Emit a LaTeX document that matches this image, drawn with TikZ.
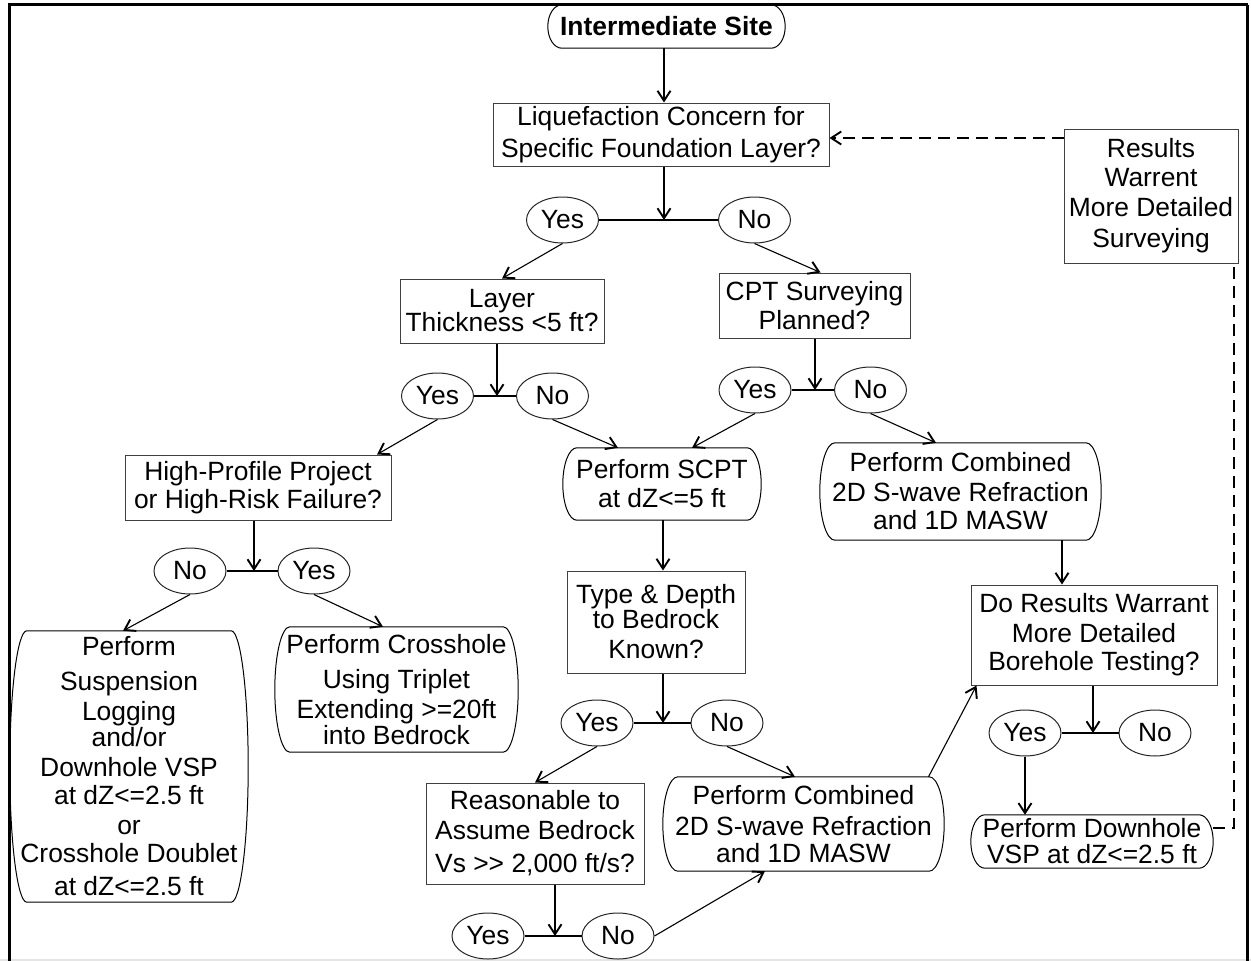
\documentclass[tikz,border=0pt]{standalone}
\usepackage{fontspec}
\setmainfont{Liberation Sans}
\usetikzlibrary{arrows.meta,calc,shapes.geometric}

% Outline of a "terminal" box: straight top and bottom, elliptic sides
\newcommand\termshape[2]{%
  \draw[termline]
    ([xshift=#2pt]#1.north west) -- ([xshift=-#2pt]#1.north east)
    .. controls ([xshift=-0.448*#2pt]#1.north east) and ($(#1.east)!0.552!(#1.north east)$) .. (#1.east)
    .. controls ($(#1.east)!0.552!(#1.south east)$) and ([xshift=-0.448*#2pt]#1.south east) .. ([xshift=-#2pt]#1.south east)
    -- ([xshift=#2pt]#1.south west)
    .. controls ([xshift=0.448*#2pt]#1.south west) and ($(#1.west)!0.552!(#1.south west)$) .. (#1.west)
    .. controls ($(#1.west)!0.552!(#1.north west)$) and ([xshift=0.448*#2pt]#1.north west) .. cycle;}

\begin{document}
\begin{tikzpicture}[x=1pt,y=-1pt,
  every node/.style={font=\fontsize{26.4}{30}\selectfont, inner sep=0pt, align=center},
  sz/.style 2 args={minimum width=#1pt, minimum height=#2pt},
  qbox/.style={rectangle, draw=black!75, line width=1pt},
  tbox/.style={rectangle},
  termline/.style={draw=black, line width=1pt},
  oval/.style={ellipse, draw=black!85, line width=1pt, minimum width=72pt, minimum height=46pt},
  link/.style={draw=black, line width=1.1pt},
  tip/.style={-{Straight Barb[length=10pt,width=13pt,line width=1.9pt]}},
  arr/.style={link, tip},
  flow/.style={link, dash pattern=on 12pt off 7pt},
]
\useasboundingbox (0,0) rectangle (1251,961);

% page frame
\draw[black!10, line width=1.5pt] (0,960) -- (1251,960);
\draw[line width=3pt] (9,961) -- (9,4.5) -- (1247.5,4.5);
\draw[line width=2.5pt] (1247.5,4.5) -- (1247.5,961);

% junctions of the Yes/No pairs
\coordinate (j1) at (664,220);
\coordinate (j2) at (497,396);
\coordinate (j3) at (815,390);
\coordinate (j4) at (254,571);
\coordinate (j5) at (663,723);
\coordinate (j6) at (555,936);
\coordinate (j7) at (1093,733);
\coordinate (k1) at (1062,560);
\coordinate (dl) at (1000,138);
\coordinate (dd) at (1234,828);

% boxes
\node[tbox, sz={237}{43}, font=\fontsize{26.4}{30}\selectfont\bfseries] (start) at (666.5,26.5) {Intermediate Site};
\node[qbox, sz={336}{63}] (liq) at (661,134.5) {Liquefaction Concern for\\[2pt]Specific Foundation Layer?};
\node[qbox, sz={174}{134}] (res) at (1151,196) {Results\\[-1pt]Warrent\\More Detailed\\[1pt]Surveying};
\node[qbox, sz={204}{64}] (layer) at (502,311) {Layer\\[-6pt]Thickness <5 ft?};
\node[qbox, sz={191}{65}] (cpt) at (814.5,305.5) {CPT Surveying\\[-1pt]Planned?};
\node[qbox, sz={266}{65}] (high) at (258,487.5) {High-Profile Project\\[-2pt]or High-Risk Failure?};
\node[tbox, sz={198}{72}] (scpt) at (662,484) {Perform SCPT\\[-1pt]at dZ<=5 ft};
\node[tbox, sz={281}{97}] (comb1) at (960.5,491.5) {Perform Combined\\2D S-wave Refraction\\[-2pt]and 1D MASW};
\node[tbox, sz={238}{271}] (susp) at (129,766.5) {Perform\\[5pt]Suspension\\Logging\\[-4pt]and/or\\Downhole VSP\\[-2pt]at dZ<=2.5 ft\\or\\[-2pt]Crosshole Doublet\\[3pt]at dZ<=2.5 ft};
\node[tbox, sz={243}{125}] (cross) at (396.5,689.5) {Perform Crosshole\\[5pt]Using Triplet\\Extending >=20ft\\[-4pt]into Bedrock};
\node[qbox, sz={178}{102}] (type) at (656,622) {Type \& Depth\\[-5pt]to Bedrock\\Known?};
\node[qbox, sz={218}{101}] (reas) at (535,833.5) {Reasonable to\\Assume Bedrock\\[3pt]Vs >{}> 2,000 ft/s?};
\node[tbox, sz={281}{94}] (comb2) at (803.5,824) {Perform Combined\\[1pt]2D S-wave Refraction\\[-3pt]and 1D MASW};
\node[qbox, sz={246}{100}] (dores) at (1094,635) {Do Results Warrant\\More Detailed\\[-2pt]Borehole Testing?};
\node[tbox, sz={242}{53}] (down) at (1092,841.5) {Perform Downhole\\[-4pt]VSP at dZ<=2.5 ft};

\termshape{start}{14}
\termshape{scpt}{14}
\termshape{comb1}{15}
\termshape{susp}{17}
\termshape{cross}{15}
\termshape{comb2}{15}
\termshape{down}{14}

% Yes / No answers
\node[oval] (y1) at (562.5,220) {Yes};
\node[oval] (n1) at (754.5,220) {No};
\node[oval] (y2) at (437.5,396) {Yes};
\node[oval] (n2) at (552.5,396) {No};
\node[oval] (y3) at (755,390) {Yes};
\node[oval] (n3) at (870.5,390) {No};
\node[oval] (n4) at (190,571) {No};
\node[oval] (y4) at (314,571) {Yes};
\node[oval] (y5) at (597,723) {Yes};
\node[oval] (n5) at (727,723) {No};
\node[oval] (y6) at (488,936) {Yes};
\node[oval] (n6) at (618,936) {No};
\node[oval] (y7) at (1025,733) {Yes};
\node[oval] (n7) at (1155,733) {No};

% answer bars
\draw[link] (y1.east) -- (n1.west);
\draw[link] (y2.east) -- (n2.west);
\draw[link] (y3.east) -- (n3.west);
\draw[link] (n4.east) -- (y4.west);
\draw[link] (y5.east) -- (n5.west);
\draw[link] (y6.east) -- (n6.west);
\draw[link] (y7.east) -- (n7.west);

% vertical flow into the questions and answer bars
\draw[arr] (start.south -| j1) -- (liq.north -| j1);
\draw[arr] (liq.south -| j1) -- (j1);
\draw[arr] (layer.south -| j2) -- (j2);
\draw[arr] (cpt.south -| j3) -- (j3);
\draw[arr] (high.south -| j4) -- (j4);
\draw[arr] (scpt.south -| j5) -- (type.north -| j5);
\draw[arr] (type.south -| j5) -- (j5);
\draw[arr] (reas.south -| j6) -- (j6);
\draw[arr] (comb1.south -| k1) -- (dores.north -| k1);
\draw[arr] (dores.south -| j7) -- (j7);
\draw[arr] (y7.south) -- (down.north -| y7.south);

% answers leading to the next step
\draw[arr] (y1.south) -- (layer.north);
\draw[arr] (n1.south) -- ([xshift=6pt]cpt.north);
\draw[arr] (y2.south) -- ([xshift=119pt]high.north);
\draw[arr] (n2.south) -- ([xshift=-44pt]scpt.north);
\draw[arr] (y3.south) -- ([xshift=30pt]scpt.north);
\draw[arr] (n3.south) -- ([xshift=-24.5pt]comb1.north);
\draw[arr] (n4.south) -- ([xshift=-6pt]susp.north);
\draw[arr] (y4.south) -- ([xshift=-13.5pt]cross.north);
\draw[arr] (y5.south) -- (reas.north);
\draw[arr] (n5.south) -- ([xshift=-8.5pt]comb2.north);
\draw[arr] (n6.east) -- ([xshift=-38.5pt]comb2.south);
\draw[arr] ([xshift=125pt]comb2.north) -- ([xshift=6pt]dores.south west);

% loop back for more detailed surveying
\draw[flow] (down.east |- dd) -- (dd) -- (res.south -| dd);
\draw[flow, tip] (res.west |- dl) -- (liq.east |- dl);
\end{tikzpicture}
\end{document}
